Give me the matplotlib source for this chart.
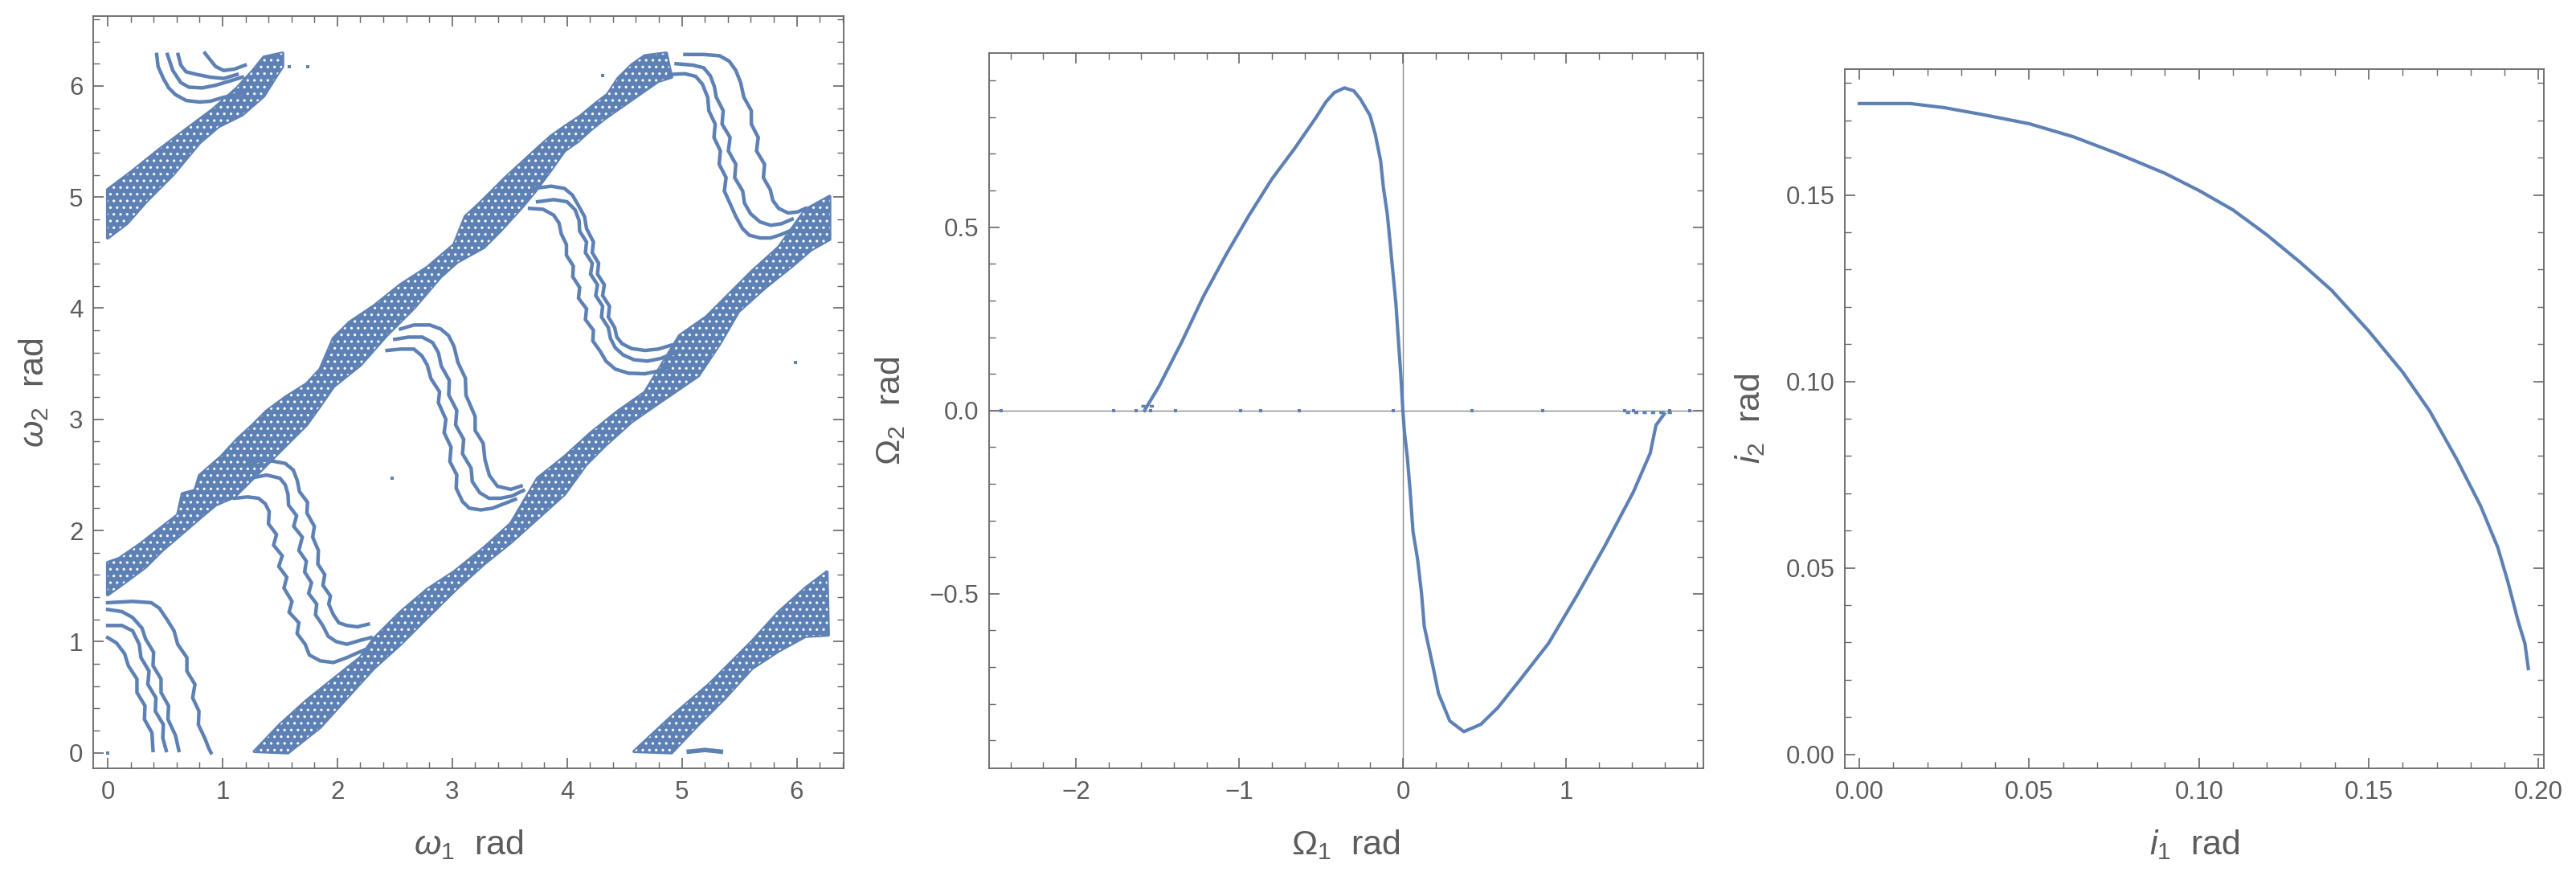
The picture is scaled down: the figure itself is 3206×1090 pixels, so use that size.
import matplotlib
matplotlib.use('Agg')
import matplotlib.pyplot as plt
from matplotlib.ticker import MultipleLocator

plt.rcParams['font.family'] = ['Liberation Sans', 'DejaVu Sans']
plt.rcParams['mathtext.fontset'] = 'custom'
plt.rcParams['mathtext.rm'] = 'Liberation Sans'
plt.rcParams['mathtext.it'] = 'Liberation Sans:italic'
plt.rcParams['mathtext.bf'] = 'Liberation Sans:bold'
plt.rcParams['hatch.linewidth'] = 1.1

# ---------------- Panel 1 : omega1 vs omega2 (rad) ----------------
BAND_A_UP = [(0.000,1.711),(0.100,1.747),(0.287,1.880),(0.450,2.012),(0.610,2.140),(0.650,2.330),(0.760,2.360),
             (0.800,2.495),(0.987,2.663),(1.127,2.820),(1.267,2.952),(1.383,3.073),(1.547,3.198),(1.733,3.319),
             (1.850,3.450),(1.966,3.729),(2.106,3.873),(2.316,4.018),(2.550,4.211),(2.783,4.367),(3.016,4.572),
             (3.114,4.825),(3.230,4.934),(3.347,5.054),(3.464,5.175),(3.604,5.307),(3.744,5.440),(3.861,5.548),
             (3.978,5.633),(4.118,5.729),(4.258,5.850),(4.352,5.922),(4.444,6.067),(4.561,6.187),(4.677,6.271),
             (4.864,6.295)]
BAND_A_LO = [(0.000,1.422),(0.147,1.530),(0.334,1.675),(0.474,1.820),(0.637,1.964),(0.800,2.109),(0.940,2.230),
             (1.103,2.302),(1.267,2.470),(1.453,2.663),(1.593,2.808),(1.733,2.952),(1.850,3.121),(1.966,3.295),
             (2.200,3.488),(2.433,3.760),(2.666,4.000),(2.900,4.283),(3.044,4.415),(3.277,4.548),(3.417,4.693),
             (3.600,4.900),(3.721,5.050),(3.862,5.247),(3.978,5.416),(4.094,5.500),(4.210,5.609),(4.327,5.705),
             (4.444,5.790),(4.561,5.874),(4.677,5.958),(4.794,6.042),(4.910,6.079)]
BAND_B_UP = [(1.278,0.012),(1.500,0.253),(1.733,0.470),(1.966,0.663),(2.200,0.856),(2.316,1.024),(2.550,1.265),
             (2.783,1.470),(3.016,1.627),(3.277,1.844),(3.510,2.061),(3.744,2.470),(3.978,2.663),(4.210,2.880),
             (4.444,3.073),(4.677,3.242),(4.980,3.753),(5.213,3.921),(5.377,4.090),(5.610,4.331),(5.843,4.548),
             (6.077,4.886),(6.287,5.006)]
BAND_B_LO = [(1.570,0.000),(1.850,0.229),(2.083,0.494),(2.316,0.759),(2.550,0.976),(2.783,1.217),(3.044,1.482),
             (3.277,1.699),(3.510,1.892),(3.744,2.109),(3.978,2.326),(4.164,2.591),(4.327,2.760),(4.561,2.977),
             (4.864,3.194),(5.143,3.391),(5.330,3.680),(5.493,3.970),(5.727,4.187),(5.960,4.379),(6.123,4.524),
             (6.287,4.620)]
BAND_C_UP = [(4.584,0.012),(4.910,0.325),(5.237,0.615),(5.610,1.000),(5.843,1.265),(6.077,1.482),(6.263,1.627)]
BAND_C_LO = [(4.910,0.000),(5.143,0.253),(5.377,0.494),(5.610,0.759),(5.843,0.916),(6.077,1.048),(6.275,1.060)]
BAND_UL_UP = [(0.000,5.066),(0.217,5.235),(0.450,5.428),(0.683,5.609),(0.917,5.789),(1.127,5.982),(1.267,6.139),
              (1.360,6.259),(1.523,6.295)]
BAND_UL_LO = [(0.000,4.632),(0.170,4.765),(0.334,4.958),(0.567,5.199),(0.800,5.488),(0.963,5.633),(1.173,5.741),
              (1.360,5.910),(1.477,6.103),(1.523,6.175)]

S1_A = [(0.000,1.350),(0.217,1.362),(0.380,1.350),(0.450,1.301),(0.520,1.193),(0.578,1.097),(0.610,0.976),
        (0.690,0.856),(0.690,0.735),(0.760,0.615),(0.740,0.494),(0.795,0.374),(0.790,0.253),(0.845,0.133),
        (0.882,0.036),(0.900,0.000)]
S1_B = [(0.000,1.289),(0.124,1.270),(0.217,1.217),(0.299,1.121),(0.330,1.024),(0.400,0.904),(0.395,0.783),
        (0.465,0.663),(0.465,0.542),(0.530,0.422),(0.525,0.301),(0.590,0.157),(0.620,0.020)]
S1_C = [(0.000,1.145),(0.124,1.145),(0.217,1.097),(0.275,0.976),(0.290,0.856),(0.360,0.735),(0.350,0.615),
        (0.420,0.494),(0.415,0.374),(0.485,0.253),(0.480,0.133),(0.510,0.020)]
S1_D = [(0.000,1.036),(0.077,0.988),(0.147,0.892),(0.180,0.783),(0.255,0.663),(0.255,0.542),(0.325,0.422),
        (0.320,0.301),(0.385,0.181),(0.395,0.020)]
T1_A = [(0.427,6.283),(0.439,6.175),(0.485,6.067),(0.532,5.982),(0.590,5.922),(0.683,5.869),(0.800,5.855),
        (0.893,5.862),(1.010,5.898),(1.127,5.922),(1.220,5.958)]
T1_B = [(0.520,6.283),(0.567,6.139),(0.637,6.030),(0.707,5.989),(0.823,5.982),(0.940,6.006),(1.057,6.042),
        (1.173,6.079)]
T1_C = [(0.613,6.283),(0.637,6.187),(0.683,6.127),(0.777,6.103),(0.893,6.079),(1.010,6.067),(1.127,6.103)]
T1_D = [(0.847,6.295),(0.893,6.235),(0.940,6.175),(1.010,6.139),(1.103,6.151),(1.197,6.187)]
S2_1 = [(1.103,2.290),(1.220,2.302),(1.313,2.290),(1.372,2.241),(1.407,2.169),(1.400,2.061),(1.470,1.964),
        (1.445,1.868),(1.520,1.772),(1.490,1.676),(1.560,1.579),(1.535,1.482),(1.605,1.362),(1.580,1.265),
        (1.665,1.169),(1.650,1.073),(1.720,0.976),(1.756,0.880),(1.850,0.827),(1.966,0.812),(2.083,0.856),
        (2.176,0.899),(2.270,0.940)]
S2_2 = [(1.243,2.470),(1.383,2.499),(1.500,2.470),(1.547,2.410),(1.570,2.326),(1.575,2.229),(1.645,2.133),
        (1.620,2.037),(1.695,1.940),(1.665,1.820),(1.730,1.723),(1.715,1.627),(1.775,1.530),(1.750,1.434),
        (1.820,1.338),(1.810,1.241),(1.873,1.145),(1.920,1.048),(1.990,1.000),(2.083,0.976),(2.200,1.012),
        (2.293,1.036)]
S2_3 = [(1.220,2.615),(1.383,2.634),(1.547,2.603),(1.617,2.543),(1.652,2.446),(1.670,2.350),(1.740,2.254),
        (1.735,2.157),(1.800,2.037),(1.785,1.940),(1.835,1.820),(1.830,1.699),(1.890,1.603),(1.875,1.506),
        (1.940,1.410),(1.925,1.338),(1.966,1.241),(2.013,1.169),(2.083,1.145),(2.176,1.133),(2.270,1.157)]
S3_1 = [(2.433,3.620),(2.550,3.632),(2.666,3.632),(2.736,3.572),(2.783,3.488),(2.815,3.367),(2.890,3.247),
        (2.880,3.150),(2.945,3.000),(2.930,2.880),(2.990,2.750),(2.980,2.620),(3.040,2.500),(3.035,2.380),
        (3.090,2.260),(3.150,2.200),(3.250,2.185),(3.350,2.200),(3.450,2.240),(3.550,2.280)]
S3_2 = [(2.500,3.720),(2.620,3.740),(2.740,3.740),(2.830,3.690),(2.880,3.600),(2.905,3.480),(2.975,3.350),
        (2.970,3.220),(3.040,3.080),(3.030,2.950),(3.100,2.820),(3.090,2.690),(3.165,2.560),(3.175,2.440),
        (3.240,2.340),(3.320,2.290),(3.420,2.290),(3.520,2.310),(3.620,2.360)]
S3_3 = [(2.550,3.813),(2.666,3.849),(2.806,3.849),(2.900,3.813),(2.969,3.753),(3.016,3.656),(3.050,3.512),
        (3.115,3.370),(3.120,3.218),(3.200,3.025),(3.200,2.900),(3.270,2.784),(3.285,2.639),(3.324,2.495),
        (3.394,2.398),(3.510,2.370),(3.600,2.400)]
S4_1 = [(3.674,4.898),(3.791,4.890),(3.884,4.837),(3.931,4.765),(3.950,4.669),(3.995,4.572),(3.995,4.476),
        (4.055,4.379),(4.050,4.283),(4.110,4.187),(4.100,4.090),(4.170,3.994),(4.160,3.898),(4.230,3.801),
        (4.225,3.705),(4.292,3.608),(4.339,3.524),(4.420,3.452),(4.537,3.415),(4.677,3.410),(4.794,3.434),
        (4.910,3.488)]
S4_2 = [(3.744,4.958),(3.884,4.977),(4.000,4.958),(4.070,4.886),(4.105,4.789),(4.110,4.693),(4.170,4.596),
        (4.160,4.500),(4.220,4.404),(4.205,4.307),(4.265,4.211),(4.250,4.114),(4.310,4.018),(4.300,3.921),
        (4.360,3.825),(4.378,3.729),(4.420,3.644),(4.490,3.579),(4.584,3.536),(4.700,3.524),(4.817,3.548),
        (4.934,3.596)]
S4_3 = [(3.721,5.078),(3.861,5.098),(3.977,5.078),(4.047,5.018),(4.094,4.934),(4.152,4.825),(4.170,4.717),
        (4.230,4.596),(4.220,4.500),(4.275,4.404),(4.265,4.307),(4.325,4.211),(4.310,4.114),(4.370,4.018),
        (4.360,3.921),(4.415,3.825),(4.433,3.741),(4.480,3.680),(4.562,3.637),(4.678,3.620),(4.794,3.632),
        (4.910,3.668)]
S5_1 = [(4.887,6.103),(5.027,6.110),(5.120,6.086),(5.178,6.018),(5.225,5.898),(5.235,5.777),(5.290,5.657),
        (5.280,5.536),(5.335,5.416),(5.325,5.295),(5.385,5.175),(5.370,5.054),(5.423,4.934),(5.470,4.825),
        (5.528,4.717),(5.587,4.657),(5.680,4.632),(5.773,4.632),(5.867,4.664),(5.960,4.705)]
S5_2 = [(4.950,6.200),(5.097,6.187),(5.190,6.163),(5.248,6.091),(5.283,5.994),(5.300,5.898),(5.360,5.777),
        (5.350,5.657),(5.420,5.536),(5.405,5.416),(5.470,5.295),(5.460,5.175),(5.530,5.054),(5.545,4.946),
        (5.599,4.849),(5.680,4.777),(5.773,4.746),(5.867,4.760),(5.960,4.801)]
S5_3 = [(5.027,6.283),(5.190,6.283),(5.330,6.271),(5.412,6.223),(5.470,6.139),(5.512,6.030),(5.540,5.898),
        (5.605,5.777),(5.605,5.657),(5.665,5.536),(5.650,5.416),(5.720,5.295),(5.710,5.175),(5.770,5.066),
        (5.792,4.970),(5.843,4.898),(5.925,4.857),(6.007,4.866),(6.077,4.898)]
BLOB = [(5.060,0.010),(5.200,0.025),(5.340,0.010)]
STRAY_W1 = [0.000, 2.480, 5.990, 1.580, 1.745, 4.310]
STRAY_W2 = [0.000, 2.470, 3.510, 6.170, 6.170, 6.095]

# ---------------- Panel 2 : Omega1 vs Omega2 (rad) ----------------
OM_UP_X = [-1.58, -1.49, -1.35, -1.22, -1.08, -0.94, -0.80, -0.66, -0.53, -0.47, -0.42, -0.357, -0.30,
           -0.259, -0.201, -0.169, -0.136, -0.119, -0.095, -0.079, -0.062, -0.043, -0.029, -0.013, 0.0]
OM_UP_Y = [0.0, 0.067, 0.189, 0.311, 0.426, 0.533, 0.632, 0.716, 0.800, 0.842, 0.867, 0.880, 0.872,
           0.849, 0.805, 0.754, 0.681, 0.608, 0.535, 0.462, 0.382, 0.294, 0.203, 0.100, 0.0]
OM_LO_X = [0.0, 0.010, 0.028, 0.045, 0.062, 0.090, 0.114, 0.131, 0.183, 0.218, 0.287, 0.373, 0.477,
           0.580, 0.718, 0.891, 1.064, 1.237, 1.409, 1.513, 1.548, 1.599]
OM_LO_Y = [0.0, -0.060, -0.131, -0.223, -0.330, -0.406, -0.498, -0.589, -0.696, -0.772, -0.847, -0.876,
           -0.856, -0.811, -0.734, -0.635, -0.505, -0.368, -0.223, -0.116, -0.040, -0.009]
OM_DOTS_X = [-2.459, -1.769, -1.630, -1.544, -1.389, -0.991, -0.870, -0.636, -0.059, 0.425, 0.857,
             1.358, 1.409, 1.634, 1.755]
OM_TAIL_L = [(-1.60, 0.012), (-1.50, 0.012)]
OM_TAIL_R = [(1.36, -0.004), (1.65, -0.004)]

# ---------------- Panel 3 : i1 vs i2 (rad) ----------------
INC_X = [0.000, 0.015, 0.025, 0.036, 0.050, 0.063, 0.076, 0.090, 0.100, 0.110, 0.120, 0.130, 0.139,
         0.150, 0.160, 0.168, 0.176, 0.183, 0.188, 0.191, 0.194, 0.196, 0.197]
INC_Y = [0.1745, 0.1745, 0.1734, 0.1716, 0.1691, 0.1656, 0.1611, 0.1558, 0.1512, 0.1460, 0.1393,
         0.1318, 0.1245, 0.1135, 0.1025, 0.0920, 0.0790, 0.0665, 0.0555, 0.0462, 0.0357, 0.0297, 0.0230]

BLUE = '#5E81B5'
FRAME = '#666666'
TXT = '#5c5c5c'

fig = plt.figure(figsize=(32.06, 10.90), dpi=100)
ax1 = fig.add_axes([0.03618, 0.12294, 0.29133, 0.85826])
ax2 = fig.add_axes([0.38387, 0.12294, 0.27739, 0.81651])
ax3 = fig.add_axes([0.71616, 0.12294, 0.27127, 0.79844])


def style(ax, xmaj, xmin, ymaj, ymin):
    for s in ax.spines.values():
        s.set_color(FRAME)
        s.set_linewidth(1.3)
    ax.xaxis.set_major_locator(MultipleLocator(xmaj))
    ax.xaxis.set_minor_locator(MultipleLocator(xmin))
    ax.yaxis.set_major_locator(MultipleLocator(ymaj))
    ax.yaxis.set_minor_locator(MultipleLocator(ymin))
    ax.tick_params(which='both', direction='in', top=True, right=True, colors=FRAME,
                   labelcolor=TXT, labelsize=22.5)
    ax.tick_params(which='major', length=9.5, width=1.2)
    ax.tick_params(which='minor', length=5.5, width=1.0)
    ax.tick_params(axis='x', which='major', pad=11)
    ax.tick_params(axis='y', which='major', pad=9)


def band(ax, up, lo):
    xs = [p[0] for p in up] + [p[0] for p in lo[::-1]]
    ys = [p[1] for p in up] + [p[1] for p in lo[::-1]]
    ax.fill(xs, ys, facecolor=BLUE, edgecolor=BLUE, lw=3.0, joinstyle='round', zorder=2)
    ax.fill(xs, ys, facecolor='none', edgecolor='white', hatch='..', lw=0, zorder=2.1)


def strand(ax, pts, lw=3.2):
    ax.plot([p[0] for p in pts], [p[1] for p in pts], color=BLUE, lw=lw, solid_joinstyle='miter',
            zorder=3)


# Panel 1
for up, lo in [(BAND_A_UP, BAND_A_LO), (BAND_B_UP, BAND_B_LO), (BAND_C_UP, BAND_C_LO),
               (BAND_UL_UP, BAND_UL_LO)]:
    band(ax1, up, lo)
for s in [S1_A, S1_B, S1_C, S1_D, T1_A, T1_B, T1_C, T1_D, S2_1, S2_2, S2_3, S3_1, S3_2, S3_3,
          S4_1, S4_2, S4_3, S5_1, S5_2, S5_3]:
    strand(ax1, s)
strand(ax1, BLOB, lw=4)
ax1.plot(STRAY_W1, STRAY_W2, 's', color=BLUE, ms=3.5, mew=0)
ax1.set_xlim(-0.126, 6.409)
ax1.set_ylim(-0.140, 6.625)
style(ax1, 1, 0.2, 1, 0.2)
ax1.set_xlabel(r'$\omega_1$  rad', fontsize=31, color=TXT)
ax1.set_ylabel(r'$\omega_2$  rad', fontsize=31, color=TXT)
ax1.xaxis.set_label_coords(0.5, -0.079)
ax1.yaxis.set_label_coords(-0.057, 0.5)

# Panel 2
ax2.axhline(0, color='#8a8a8a', lw=1.0, zorder=1)
ax2.axvline(0, color='#8a8a8a', lw=1.0, zorder=1)
ax2.plot(OM_UP_X, OM_UP_Y, color=BLUE, lw=3.0, zorder=3)
ax2.plot(OM_LO_X, OM_LO_Y, color=BLUE, lw=3.0, zorder=3)
ax2.plot(OM_DOTS_X, [0.0] * len(OM_DOTS_X), 's', color=BLUE, ms=3.0, mew=0, zorder=3)
for seg in (OM_TAIL_L, OM_TAIL_R):
    ax2.plot([p[0] for p in seg], [p[1] for p in seg], color=BLUE, lw=2.5, ls=(0, (1.5, 1.5)), zorder=3)
ax2.set_xlim(-2.532, 1.838)
ax2.set_ylim(-0.976, 0.975)
style(ax2, 1, 0.2, 0.5, 0.1)
ax2.set_xlabel(r'$\Omega_1$  rad', fontsize=31, color=TXT)
ax2.set_ylabel(r'$\Omega_2$  rad', fontsize=31, color=TXT)
ax2.xaxis.set_label_coords(0.5, -0.083)
ax2.yaxis.set_label_coords(-0.114, 0.5)

# Panel 3
ax3.plot(INC_X, INC_Y, color=BLUE, lw=3.0)
ax3.set_xlim(-0.00426, 0.2015)
ax3.set_ylim(-0.00373, 0.1838)
style(ax3, 0.05, 0.01, 0.05, 0.01)
ax3.set_xlabel(r'$i_1$  rad', fontsize=31, color=TXT)
ax3.set_ylabel(r'$i_2$  rad', fontsize=31, color=TXT)
ax3.xaxis.set_label_coords(0.5, -0.085)
ax3.yaxis.set_label_coords(-0.1115, 0.5)

fig.savefig('out.png', dpi=100, facecolor='white')
